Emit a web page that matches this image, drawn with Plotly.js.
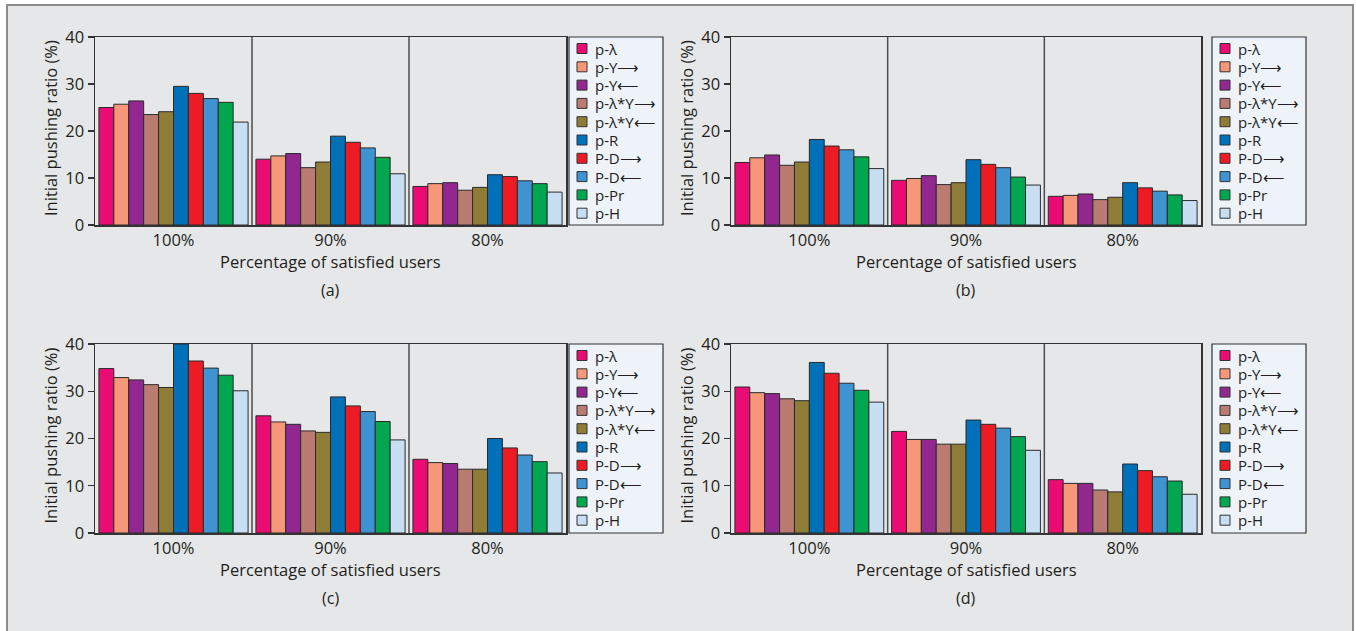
<!DOCTYPE html>
<html>
<head>
<meta charset="utf-8">
<script src="https://cdn.plot.ly/plotly-3.0.1.min.js"></script>
<style>
  html, body { margin: 0; padding: 0; background: #ffffff; }
  #chart { width: 1356px; height: 631px; }
</style>
</head>
<body>
<div id="chart"></div>
<script>
// ---------- data ----------
const categories = ['100%', '90%', '80%'];
const seriesNames = ['p-λ', 'p-Y⟶', 'p-Y⟵', 'p-λ*Y⟶', 'p-λ*Y⟵', 'p-R', 'P-D⟶', 'P-D⟵', 'p-Pr', 'p-H'];
const seriesColors = ['#ea0b73', '#f7977a', '#92278f', '#b97b72', '#8f7c37', '#0070b9', '#ed1c24', '#3f93d1', '#00a650', '#c8dff3'];
const panelLabels = ['(a)', '(b)', '(c)', '(d)'];
const yTickValues = [0, 10, 20, 30, 40];
const xTitleText = 'Percentage of satisfied users';
const yTitleText = 'Initial pushing ratio (%)';

// values per series: [100%, 90%, 80%]
const panelA = [
  [25.0, 14.0, 8.2],
  [25.7, 14.7, 8.8],
  [26.4, 15.2, 9.0],
  [23.5, 12.2, 7.4],
  [24.1, 13.4, 8.0],
  [29.5, 18.9, 10.7],
  [28.0, 17.6, 10.3],
  [26.9, 16.4, 9.4],
  [26.1, 14.4, 8.8],
  [21.9, 10.9, 7.0]
];
const panelB = [
  [13.3, 9.5, 6.1],
  [14.3, 9.9, 6.3],
  [14.9, 10.5, 6.6],
  [12.7, 8.6, 5.4],
  [13.4, 9.0, 5.9],
  [18.2, 13.9, 9.0],
  [16.8, 12.9, 7.9],
  [16.0, 12.2, 7.2],
  [14.5, 10.2, 6.4],
  [12.0, 8.5, 5.2]
];
const panelC = [
  [34.8, 24.8, 15.6],
  [32.9, 23.5, 14.9],
  [32.4, 23.0, 14.7],
  [31.4, 21.6, 13.5],
  [30.8, 21.3, 13.5],
  [40.0, 28.8, 20.0],
  [36.4, 26.9, 18.0],
  [34.9, 25.7, 16.5],
  [33.4, 23.6, 15.1],
  [30.1, 19.7, 12.7]
];
const panelD = [
  [30.9, 21.5, 11.3],
  [29.7, 19.8, 10.5],
  [29.5, 19.8, 10.5],
  [28.4, 18.8, 9.1],
  [28.0, 18.8, 8.7],
  [36.1, 23.9, 14.6],
  [33.8, 23.0, 13.2],
  [31.7, 22.2, 11.9],
  [30.2, 20.4, 11.0],
  [27.7, 17.5, 8.2]
];
const panels = [panelA, panelB, panelC, panelD];

// ---------- layout geometry (pixels) ----------
const W = 1356, H = 631;
const FONT = '"Open Sans", "Noto Sans", sans-serif';
const TXT = '#231f20';
const boxes = [
  {x0: 95,  x1: 566,  y0: 37,  y1: 225, legX: 569},
  {x0: 731, x1: 1201, y0: 37,  y1: 225, legX: 1212},
  {x0: 95,  x1: 566,  y0: 344, y1: 533, legX: 569},
  {x0: 731, x1: 1201, y0: 344, y1: 533, legX: 1212}
];
const LEG_W = 94, LEG_STEP = 18.3, LEG_FIRST = 11.5;
const px = v => v / W;
const py = v => 1 - v / H;

const traces = [];
const layout = {
  width: W, height: H,
  margin: {l: 0, r: 0, t: 0, b: 0},
  paper_bgcolor: '#ffffff',
  plot_bgcolor: '#dce8f5',
  barmode: 'group',
  bargap: 0.05,
  bargroupgap: 0,
  showlegend: false,
  font: {family: FONT, color: TXT, size: 15},
  shapes: [],
  annotations: []
};

// outer frame
layout.shapes.push({
  type: 'rect', xref: 'paper', yref: 'paper', layer: 'below',
  x0: px(7), x1: px(1353), y0: -0.05, y1: py(5),
  fillcolor: '#e6e7e9', line: {color: '#8c8c8c', width: 2}
});

panels.forEach((vals, p) => {
  const b = boxes[p];
  const sfx = p === 0 ? '' : String(p + 1);
  const xa = 'xaxis' + sfx, ya = 'yaxis' + sfx;

  vals.forEach((series, s) => {
    traces.push({
      type: 'bar',
      x: categories,
      y: series,
      name: seriesNames[s],
      xaxis: 'x' + sfx,
      yaxis: 'y' + sfx,
      marker: {color: seriesColors[s], line: {color: '#2a2a2a', width: 1}},
      hoverinfo: 'name+y'
    });
  });

  layout[xa] = {
    domain: [px(b.x0), px(b.x1)],
    anchor: 'y' + sfx,
    type: 'category',
    categoryorder: 'array',
    categoryarray: categories,
    showline: true, linecolor: '#333333', linewidth: 1.5, mirror: true,
    ticks: '', showgrid: false, zeroline: false,
    tickfont: {family: FONT, size: 16.5, color: TXT},
    fixedrange: true
  };
  layout[ya] = {
    domain: [py(b.y1), py(b.y0)],
    anchor: 'x' + sfx,
    range: [0, 40],
    tickmode: 'array',
    tickvals: yTickValues,
    ticktext: yTickValues.map(String),
    ticks: 'outside', ticklen: 6, tickcolor: '#333333', tickwidth: 1.2,
    showline: true, linecolor: '#333333', linewidth: 1.5, mirror: true,
    showgrid: false, zeroline: false,
    tickfont: {family: FONT, size: 16.5, color: TXT},
    fixedrange: true
  };

  // category dividers
  for (let i = 1; i < categories.length; i++) {
    layout.shapes.push({
      type: 'line', xref: 'x' + sfx, yref: 'y' + sfx + ' domain',
      x0: i - 0.5, x1: i - 0.5, y0: 0, y1: 1,
      line: {color: '#4d4d4d', width: 1.5}
    });
  }

  // legend box (built from the series names and colours)
  layout.shapes.push({
    type: 'rect', xref: 'paper', yref: 'paper',
    x0: px(b.legX), x1: px(b.legX + LEG_W), y0: py(b.y1), y1: py(b.y0),
    fillcolor: '#eef3fa', line: {color: '#333333', width: 1.2}
  });
  seriesNames.forEach((nm, s) => {
    const cy = b.y0 + LEG_FIRST + s * LEG_STEP;
    layout.shapes.push({
      type: 'rect', xref: 'paper', yref: 'paper',
      x0: px(b.legX + 8), x1: px(b.legX + 18), y0: py(cy + 5), y1: py(cy - 5),
      fillcolor: seriesColors[s], line: {color: '#333333', width: 1}
    });
    layout.annotations.push({
      xref: 'paper', yref: 'paper', x: px(b.legX + 24), y: py(cy),
      text: nm, showarrow: false, xanchor: 'left', yanchor: 'middle',
      font: {family: FONT, size: 15, color: TXT}
    });
  });

  const cx = (b.x0 + b.x1) / 2;
  layout.annotations.push({
    xref: 'paper', yref: 'paper', x: px(cx), y: py(b.y1 + 36),
    text: xTitleText, showarrow: false, xanchor: 'center', yanchor: 'middle',
    font: {family: FONT, size: 16.5, color: TXT}
  });
  layout.annotations.push({
    xref: 'paper', yref: 'paper', x: px(cx), y: py(b.y1 + 65),
    text: panelLabels[p], showarrow: false, xanchor: 'center', yanchor: 'middle',
    font: {family: FONT, size: 16, color: TXT}
  });
  layout.annotations.push({
    xref: 'paper', yref: 'paper', x: px(b.x0 - 45), y: py((b.y0 + b.y1) / 2 - 3),
    text: yTitleText, showarrow: false, textangle: -90,
    xanchor: 'center', yanchor: 'middle',
    font: {family: FONT, size: 16.5, color: TXT}
  });
});

Plotly.newPlot('chart', traces, layout, {displayModeBar: false, staticPlot: true});
</script>
</body>
</html>
